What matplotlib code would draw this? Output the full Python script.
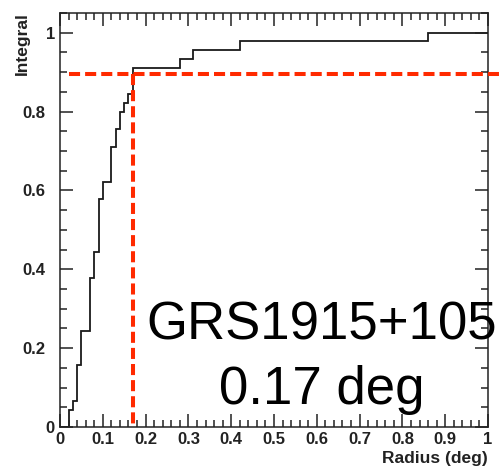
import matplotlib
matplotlib.use('Agg')
import matplotlib.pyplot as plt
from matplotlib.ticker import MultipleLocator
import matplotlib.transforms as mtransforms

# ---- data ----
radius_edges = [0.0, 0.02, 0.03, 0.04, 0.05, 0.07, 0.08, 0.09, 0.10, 0.12,
                0.13, 0.14, 0.15, 0.16, 0.17, 0.28, 0.31, 0.42, 0.86, 1.0]
integral = [0.0, 0.044, 0.067, 0.156, 0.244, 0.378, 0.444, 0.578, 0.622,
            0.711, 0.756, 0.800, 0.822, 0.844, 0.911, 0.933, 0.956, 0.978, 1.0]
containment_radius = 0.171
containment_level = 0.895
x_ticks = [0, 0.1, 0.2, 0.3, 0.4, 0.5, 0.6, 0.7, 0.8, 0.9, 1.0]
x_ticklabels = ['0', '0.1', '0.2', '0.3', '0.4', '0.5', '0.6', '0.7', '0.8', '0.9', '1']
y_ticks = [0, 0.2, 0.4, 0.6, 0.8, 1.0]
y_ticklabels = ['0', '0.2', '0.4', '0.6', '0.8', '1']
source_name = 'GRS1915+105'
radius_text = '0.17 deg'

plt.rcParams['font.family'] = ['Liberation Sans', 'DejaVu Sans']

fig = plt.figure(figsize=(4.99, 4.70), dpi=100)
ax = fig.add_axes([60 / 499, 43 / 470, 428 / 499, 414 / 470])

red = '#ff2a00'

ax.stairs(integral, radius_edges, baseline=None, color='#1a1a1a', linewidth=1.3)

ax.plot([0.022, 1.03], [containment_level, containment_level], color=red,
        linewidth=2.9, dashes=(2.75, 1.25), solid_capstyle='butt',
        dash_capstyle='butt', clip_on=False, zorder=3)
ax.plot([containment_radius, containment_radius], [containment_level, 0.0],
        color=red, linewidth=2.9, dashes=(2.75, 1.25), dash_capstyle='butt',
        clip_on=False, zorder=3)

ax.set_xlim(0, 1.0)
ax.set_ylim(0, 1.05)

ax.set_xticks(x_ticks, x_ticklabels)
ax.set_yticks(y_ticks, y_ticklabels)
ax.xaxis.set_minor_locator(MultipleLocator(0.02))
ax.yaxis.set_minor_locator(MultipleLocator(0.05))

ax.tick_params(which='both', direction='in', top=True, right=True,
               width=1.1, color='#222222')
ax.tick_params(which='major', length=9.5)
ax.tick_params(which='minor', length=5)
ax.tick_params(axis='x', which='major', pad=3.5, labelsize=12)
ax.tick_params(axis='y', which='major', pad=10.8, labelsize=12)
for lab in ax.get_xticklabels() + ax.get_yticklabels():
    lab.set_fontweight('bold')
    lab.set_color('#222222')

# single-character y labels sit closer to the axis (as in the reference)
shift = mtransforms.ScaledTranslation(10 / 100, 0, fig.dpi_scale_trans)
for lab in ax.get_yticklabels():
    if len(lab.get_text()) == 1:
        lab.set_transform(lab.get_transform() + shift)

for sp in ax.spines.values():
    sp.set_linewidth(1.1)
    sp.set_color('#222222')

ax.set_ylabel('Integral', loc='top', fontsize=12.5, fontweight='bold', color='#222222')
ax.yaxis.set_label_coords(-0.070, 1.003)
ax.set_xlabel('Radius (deg)', loc='right', fontsize=12.5, fontweight='bold', color='#222222')
ax.xaxis.set_label_coords(0.999, -0.0575)

ax.text(0.611, 0.221, source_name, fontsize=38, ha='center', va='baseline',
        color='black', clip_on=False, zorder=4)
ax.text(0.611, 0.058, radius_text, fontsize=38, ha='center', va='baseline',
        color='black', clip_on=False, zorder=4)

fig.savefig('out.png', dpi=100)
